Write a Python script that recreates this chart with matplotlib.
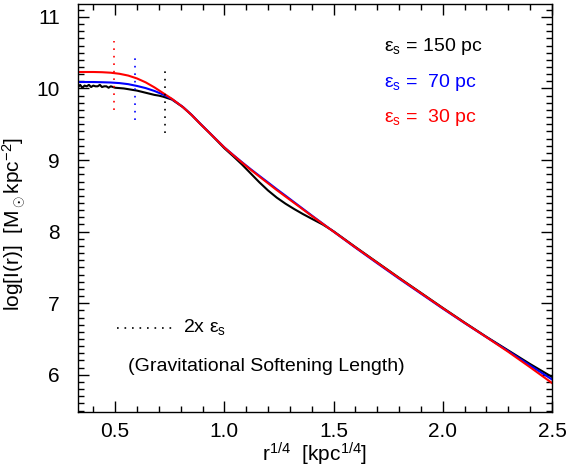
import matplotlib
matplotlib.use("Agg")
import matplotlib.pyplot as plt
from matplotlib.ticker import MultipleLocator

plt.rcParams['font.family'] = ['Liberation Sans', 'DejaVu Sans']
plt.rcParams['mathtext.fontset'] = 'custom'
plt.rcParams['mathtext.rm'] = 'Liberation Sans'
plt.rcParams['mathtext.it'] = 'Liberation Sans'
plt.rcParams['mathtext.sf'] = 'Liberation Sans'

# ---- data ----
x_red = [0.33, 0.36, 0.40, 0.44, 0.48, 0.52, 0.56, 0.60, 0.64, 0.68, 0.72, 0.76,
         0.81, 0.85, 0.89, 0.93, 0.97, 1.00, 1.04, 1.08, 1.12, 1.16, 1.20, 1.24,
         1.28, 1.32, 1.36, 1.40, 1.45, 1.50, 1.55, 1.60, 1.70, 1.80, 1.90, 2.00,
         2.10, 2.20, 2.30, 2.40, 2.50]
y_red = [10.23, 10.23, 10.23, 10.227, 10.22, 10.205, 10.18, 10.14, 10.085, 10.015, 9.935, 9.855,
         9.74, 9.63, 9.505, 9.385, 9.265, 9.175, 9.07, 8.967, 8.866, 8.77, 8.675, 8.58,
         8.49, 8.40, 8.31, 8.22, 8.11, 8.00, 7.89, 7.78, 7.565, 7.35, 7.14, 6.93,
         6.725, 6.525, 6.32, 6.105, 5.885]

x_blue = x_red
y_blue = [10.09, 10.09, 10.09, 10.087, 10.083, 10.075, 10.06, 10.035, 10.005, 9.965, 9.915, 9.852,
          9.742, 9.632, 9.507, 9.387, 9.267, 9.177, 9.073, 8.972, 8.874, 8.78, 8.687, 8.593,
          8.502, 8.41, 8.318, 8.226, 8.113, 8.00, 7.888, 7.776, 7.558, 7.343, 7.134, 6.925,
          6.722, 6.525, 6.33, 6.13, 5.935]

x_black = [0.33, 0.34, 0.35, 0.36, 0.37, 0.38, 0.39, 0.40, 0.41, 0.42, 0.43, 0.44,
           0.45, 0.46, 0.47, 0.48, 0.49, 0.50, 0.52, 0.54, 0.56, 0.58, 0.60, 0.62,
           0.64, 0.66, 0.68, 0.70, 0.72, 0.74, 0.76, 0.81, 0.85, 0.89, 0.93, 0.97,
           1.00, 1.04, 1.08, 1.12, 1.16, 1.20, 1.24, 1.28, 1.32, 1.36, 1.40, 1.45,
           1.50, 1.55, 1.60, 1.70, 1.80, 1.90, 2.00, 2.10, 2.20, 2.30, 2.40, 2.50]
y_black = [10.02, 10.05, 10.01, 10.04, 10.03, 10.05, 10.02, 10.04, 10.03, 10.03, 10.05, 10.02,
           10.03, 10.03, 10.01, 10.03, 10.02, 10.01, 10.005, 10.00, 9.99, 9.98, 9.97, 9.955,
           9.94, 9.925, 9.91, 9.90, 9.885, 9.865, 9.845, 9.74, 9.63, 9.505, 9.385, 9.26,
           9.165, 9.055, 8.94, 8.815, 8.69, 8.575, 8.475, 8.39, 8.315, 8.245, 8.18, 8.10,
           8.005, 7.895, 7.785, 7.57, 7.355, 7.145, 6.935, 6.73, 6.53, 6.34, 6.15, 5.97]

# 2x softening markers: x position, y range
soft_x = [0.495, 0.59, 0.73]
soft_ylo = [9.70, 9.56, 9.38]
soft_yhi = [10.66, 10.50, 10.32]
soft_colors = ['red', 'blue', 'black']

labels = ['ε$_{\\rm s}$ = 150 pc', 'ε$_{\\rm s}$ =  70 pc', 'ε$_{\\rm s}$ =  30 pc']
label_colors = ['black', 'blue', 'red']
label_y = [10.58, 10.08, 9.60]

fig = plt.figure(figsize=(5.71, 4.70), dpi=100)
ax = fig.add_axes([0.1366, 0.1234, 0.8301, 0.8681])

ax.plot(x_black, y_black, color='black', lw=1.5)
ax.plot(x_blue, y_blue, color='blue', lw=1.5)
ax.plot(x_red, y_red, color='red', lw=1.5)

for sx, lo, hi, c in zip(soft_x, soft_ylo, soft_yhi, soft_colors):
    ax.plot([sx, sx], [lo, hi], color=c, lw=1.2, linestyle=(0, (1, 3.5)))

for t, c, yy in zip(labels, label_colors, label_y):
    ax.text(1.733, yy, t, color=c, fontsize=14, va='center', ha='left')

ax.plot([0.51, 0.76], [6.66, 6.66], color='black', lw=1.2, linestyle=(0, (1, 3.5)))
ax.text(0.81, 6.67, '2x ε$_{\\rm s}$', fontsize=14, va='center', ha='left')
ax.text(0.56, 6.11, '(Gravitational Softening Length)', fontsize=14, va='center', ha='left')

ax.set_xlim(0.33, 2.5)
ax.set_ylim(5.48, 11.18)
ax.xaxis.set_minor_locator(MultipleLocator(0.1))
ax.yaxis.set_major_locator(MultipleLocator(1))
ax.yaxis.set_minor_locator(MultipleLocator(0.1))
ax.set_xticks([0.5, 1.0, 1.5, 2.0, 2.5])
ax.set_xticklabels(['0.5', '1.0', '1.5', '2.0', '2.5'])
ax.tick_params(which='both', direction='in', top=True, right=True, width=1)
ax.tick_params(which='major', length=8, labelsize=15)
ax.tick_params(axis='y', which='major', pad=13)
ax.tick_params(axis='x', which='major', pad=7)
ax.tick_params(which='minor', length=4)
for s in ax.spines.values():
    s.set_linewidth(1)

ax.set_xlabel('r$^{1/4}$  [kpc$^{1/4}$]', fontsize=15, labelpad=0)
ax.set_ylabel('log[I(r)]  [M$_\\odot$kpc$^{-2}$]', fontsize=15)
ax.yaxis.set_label_coords(-0.105, 0.46)

fig.savefig('out.png', dpi=100)
